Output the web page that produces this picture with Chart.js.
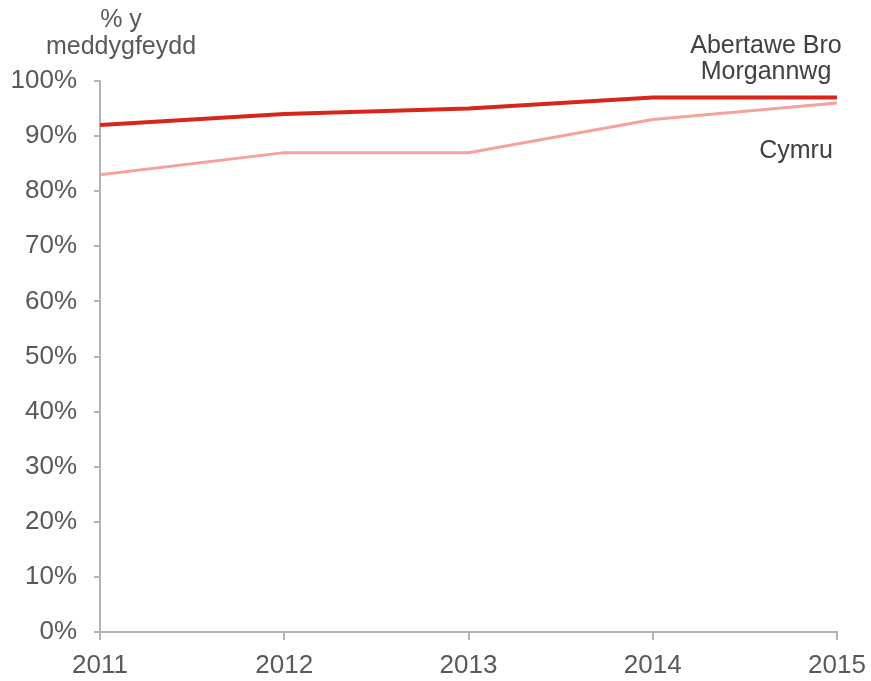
<!DOCTYPE html>
<html>
<head>
<meta charset="utf-8">
<script src="https://cdn.jsdelivr.net/npm/chart.js@4/dist/chart.umd.min.js"></script>
<style>
    body { margin: 0; background: #fff; }
    #wrap { width: 871px; height: 681px; }
</style>
</head>
<body>
<div id="wrap"><canvas id="myChart" width="871" height="681"></canvas></div>
<script>
const years = ['2011', '2012', '2013', '2014', '2015']
const abertawe = [92, 94, 95, 97, 97]
const cymru = [83, 87, 87, 93, 96]
const yTicks = [0, 10, 20, 30, 40, 50, 60, 70, 80, 90, 100]

const axisGrey = '#b3b3b3'
const labelGrey = '#595959'
const font = 'Liberation Sans, Arial, sans-serif'

const textPlugin = {
    id: 'labels',
    afterDraw(chart) {
        const ctx = chart.ctx
        const x = chart.scales.x
        const y = chart.scales.y
        ctx.save()
        ctx.font = '25px ' + font
        ctx.textAlign = 'center'
        ctx.textBaseline = 'middle'
        ctx.fillStyle = labelGrey
        ctx.fillText('% y', 121, 20)
        ctx.fillText('meddygfeydd', 121, 47)

        ctx.fillStyle = '#404040'
        const xEnd = x.getPixelForValue(years.length - 1)
        ctx.fillText('Abertawe Bro', xEnd - 71, y.getPixelForValue(abertawe[4]) - 51)
        ctx.fillText('Morgannwg', xEnd - 71, y.getPixelForValue(abertawe[4]) - 25)
        ctx.fillText('Cymru', xEnd - 41, y.getPixelForValue(cymru[4]) + 48)
        ctx.restore()
    }
}

new Chart(document.getElementById('myChart').getContext('2d'), {
    type: 'line',
    data: {
        labels: years,
        datasets: [
            {
                label: 'Cymru',
                data: cymru,
                borderColor: '#f4a29c',
                borderWidth: 3,
                pointRadius: 0,
                fill: false
            },
            {
                label: 'Abertawe Bro Morgannwg',
                data: abertawe,
                borderColor: '#d9261c',
                borderWidth: 4,
                pointRadius: 0,
                fill: false
            }
        ]
    },
    options: {
        responsive: false,
        animation: false,
        layout: { padding: { top: 81, right: 34, left: 0, bottom: 0 } },
        plugins: {
            legend: { display: false },
            tooltip: { enabled: false }
        },
        scales: {
            x: {
                offset: false,
                grid: { display: true, drawOnChartArea: false, drawTicks: true, tickLength: 8, color: axisGrey, lineWidth: 2 },
                border: { color: axisGrey, width: 2 },
                ticks: { color: labelGrey, font: { size: 26, family: font }, padding: 10, maxRotation: 0 },
                afterFit(scale) {
                    scale.height = 49
                    scale.paddingLeft = 0
                    scale.paddingRight = 0
                }
            },
            y: {
                min: 0,
                max: 100,
                afterBuildTicks(scale) { scale.ticks = yTicks.map(v => ({ value: v })) },
                grid: { display: true, drawOnChartArea: false, drawTicks: true, tickLength: 6, color: axisGrey, lineWidth: 2 },
                border: { color: axisGrey, width: 2 },
                ticks: { color: labelGrey, font: { size: 26, family: font }, padding: 17, callback: v => v + '%' },
                afterFit(scale) { scale.width = 100 }
            }
        }
    },
    plugins: [textPlugin]
})
</script>
</body>
</html>
